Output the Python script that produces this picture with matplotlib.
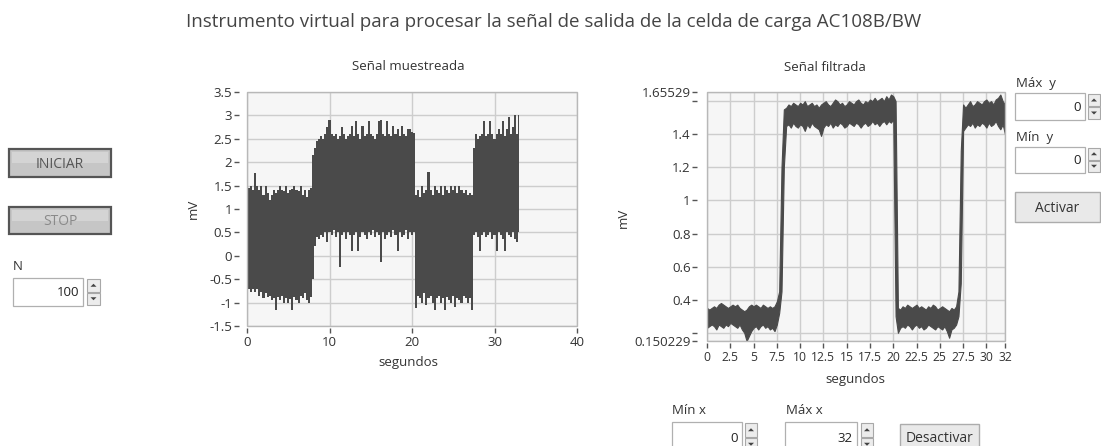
import numpy as np
import matplotlib
matplotlib.use("Agg")
import matplotlib.pyplot as plt
from matplotlib.patches import Rectangle, Polygon

plt.rcParams["font.family"] = ["Open Sans", "DejaVu Sans"]

# ── Data ────────────────────────────────────────────────────────────────────
T_STEP = 0.25  # s between envelope samples

# "Señal muestreada": upper / lower edge of the noisy band, t = 0 .. 33 s
raw_upper = [
    # 0 - 7.75 s (low level)
    1.13, 1.45, 1.5, 1.4, 1.77, 1.5, 1.4, 1.5, 1.3, 1.5, 1.35, 1.2, 1.3, 1.4, 1.35, 1.4,
    1.5, 1.4, 1.38, 1.5, 1.35, 1.4, 1.42, 1.5, 1.4, 1.38, 1.5, 1.3, 1.4, 1.25, 1.4, 1.45,
    # 8 - 8.5 s (step up)
    2.15, 2.3, 2.45,
    # 8.75 - 20.25 s (high level)
    2.5, 2.55, 2.5, 2.6, 2.75, 2.9, 2.6, 2.55, 2.6, 2.5, 2.55, 2.75, 2.6, 2.5, 2.55, 2.6,
    2.78, 2.55, 2.87, 2.6, 2.5, 2.78, 2.55, 2.6, 2.87, 2.6, 2.55, 2.5, 2.6, 2.87, 2.9, 2.6,
    2.55, 2.87, 2.6, 2.55, 2.78, 2.6, 2.72, 2.55, 2.78, 2.6, 2.55, 2.72, 2.7, 2.65, 2.62,
    # 20.5 - 27.25 s (low level)
    1.3, 1.4, 1.25, 1.5, 1.35, 1.4, 1.8, 1.4, 1.3, 1.5, 1.4, 1.35, 1.5, 1.3, 1.5, 1.4,
    1.35, 1.5, 1.4, 1.5, 1.35, 1.5, 1.4, 1.35, 1.4, 1.3, 1.35, 1.3,
    # 27.5 - 33 s (high level)
    2.3, 2.6, 2.5, 2.55, 2.6, 2.87, 2.55, 2.6, 2.87, 2.6, 2.5, 2.6, 2.72, 2.6, 2.87, 2.55,
    2.7, 2.97, 2.6, 2.75, 3.0, 2.6, 3.0,
]
raw_lower = [
    -0.65, -0.7, -0.78, -0.72, -0.78, -0.7, -0.85, -0.78, -0.9, -0.8, -0.88, -0.85, -0.95,
    -0.9, -1.15, -0.88, -0.95, -0.85, -1.0, -0.9, -1.0, -0.92, -1.16, -0.88, -0.95, -1.0,
    -0.85, -0.9, -0.8, -0.95, -1.0, -0.88,
    -0.5, 0.2, 0.4,
    0.35, 0.45, 0.4, 0.5, 0.3, 0.5, 0.45, 0.55, 0.4, 0.5, -0.25, 0.45, 0.5, 0.35, 0.5, 0.45,
    0.1, 0.45, 0.5, 0.1, 0.4, 0.5, 0.45, 0.35, 0.5, 0.45, 0.55, 0.4, 0.5, 0.45, -0.13, 0.5,
    0.35, 0.45, 0.5, 0.4, 0.55, 0.45, 0.1, 0.5, 0.4, 0.45, 0.55, 0.35, 0.5, 0.45, 0.5,
    -1.12, -0.85, -0.9, -1.0, -0.8, -1.05, -0.9, -0.85, -1.0, -1.15, -0.9, -0.85, -1.0, -0.9,
    -1.15, -0.88, -0.95, -1.0, -0.85, -1.1, -0.9, -0.95, -1.0, -0.85, -0.9, -1.0, -0.9, -1.15,
    0.45, 0.5, 0.4, 0.1, 0.45, 0.5, 0.4, 0.45, 0.5, 0.35, 0.45, 0.1, 0.5, 0.45, 0.35, 0.1,
    0.5, 0.45, 0.4, 0.5, 0.35, 0.3, 0.5,
]

# "Señal filtrada": upper / lower edge of the trace, t = 0 .. 32 s
filt_upper = [
    0.35, 0.34, 0.35, 0.36, 0.35, 0.37, 0.38, 0.37, 0.36, 0.35, 0.36, 0.37, 0.36, 0.37, 0.35,
    0.34, 0.33, 0.34, 0.36, 0.37, 0.36, 0.37, 0.36, 0.35, 0.37, 0.36, 0.35, 0.36, 0.35, 0.36, 0.39,
    0.45, 1.2, 1.55,
    1.56, 1.58, 1.57, 1.59, 1.58, 1.57, 1.59, 1.58, 1.6, 1.57, 1.58, 1.59, 1.57, 1.58, 1.56, 1.58,
    1.59, 1.6, 1.58, 1.57, 1.59, 1.61, 1.6, 1.58, 1.59, 1.57, 1.58, 1.6, 1.59, 1.58, 1.6, 1.61,
    1.59, 1.58, 1.6, 1.59, 1.61, 1.6, 1.62, 1.6, 1.61, 1.62, 1.6, 1.63, 1.61, 1.64, 1.63,
    1.6,
    0.35, 0.34, 0.36, 0.35, 0.37, 0.36, 0.35, 0.36, 0.37, 0.35, 0.36, 0.35, 0.34, 0.36, 0.35,
    0.37, 0.36, 0.34, 0.35, 0.36, 0.35, 0.34, 0.33, 0.35, 0.34, 0.36,
    0.45, 1.3, 1.58,
    1.56, 1.58, 1.6, 1.57, 1.58, 1.6, 1.59, 1.58, 1.6, 1.61, 1.59, 1.6, 1.58, 1.61, 1.62, 1.64,
    1.6, 1.58,
]
filt_lower = [
    0.23, 0.24, 0.25, 0.24, 0.22, 0.25, 0.24, 0.23, 0.25, 0.24, 0.26, 0.25, 0.24, 0.23, 0.25,
    0.22, 0.2, 0.15, 0.18, 0.21, 0.23, 0.24, 0.22, 0.24, 0.25, 0.23, 0.24, 0.22, 0.23, 0.21, 0.25,
    0.32, 0.45, 1.2,
    1.45, 1.46, 1.44, 1.47, 1.45, 1.44, 1.46, 1.45, 1.42, 1.46, 1.44, 1.47, 1.45, 1.44, 1.43, 1.39,
    1.44, 1.46, 1.45, 1.47, 1.44, 1.46, 1.45, 1.47, 1.46, 1.44, 1.45, 1.47, 1.46, 1.45, 1.47, 1.46,
    1.44, 1.46, 1.47, 1.45, 1.46, 1.48, 1.46, 1.47, 1.45, 1.47, 1.48, 1.46, 1.48, 1.47, 1.49,
    0.3,
    0.2, 0.23, 0.24, 0.23, 0.25, 0.24, 0.22, 0.24, 0.25, 0.23, 0.24, 0.22, 0.23, 0.25, 0.24,
    0.23, 0.22, 0.24, 0.23, 0.22, 0.24, 0.21, 0.17, 0.22, 0.23, 0.25,
    0.3, 0.5, 1.42,
    1.44, 1.46, 1.45, 1.47, 1.44, 1.46, 1.45, 1.47, 1.46, 1.44, 1.47, 1.45, 1.46, 1.48, 1.45, 1.43,
    1.46, 1.40,
]

raw_xticks = [0, 10, 20, 30, 40]
raw_yticks = [-1.5, -1, -0.5, 0, 0.5, 1, 1.5, 2, 2.5, 3, 3.5]
raw_yticklabels = ["-1.5", "-1", "-0.5", "0", "0.5", "1", "1.5", "2", "2.5", "3", "3.5"]

filt_xticks = [0, 2.5, 5, 7.5, 10, 12.5, 15, 17.5, 20, 22.5, 25, 27.5, 30, 32]
filt_xticklabels = ["0", "2.5", "5", "7.5", "10", "12.5", "15", "17.5", "20", "22.5",
                    "25", "27.5", "30", "32"]
filt_yticks = [0.150229, 0.2, 0.4, 0.6, 0.8, 1.0, 1.2, 1.4, 1.6, 1.65529]
filt_yticklabels = ["0.150229", "", "0.4", "0.6", "0.8", "1", "1.2", "1.4", "", "1.65529"]

# ── Figure / helpers ────────────────────────────────────────────────────────
W, H = 1101, 446
TXT = "#333333"
TRACE = "#4a4a4a"
GRID = "#cdcdcd"
FRAME = "#b8b8b8"
PLOT_BG = "#f6f6f6"

fig = plt.figure(figsize=(W / 100, H / 100), dpi=100, facecolor="white")

# pixel-space overlay for the front-panel controls
ui = fig.add_axes([0, 0, 1, 1], zorder=0)
ui.set_xlim(0, W)
ui.set_ylim(H, 0)
ui.axis("off")


def px_axes(x0, y0, x1, y1):
    return fig.add_axes([x0 / W, (H - y1) / H, (x1 - x0) / W, (y1 - y0) / H], zorder=1)


def spinner(x0, x1, y0, y1):
    mid = (y0 + y1) / 2
    for top, bot, up in ((y0, mid - 0.5, True), (mid + 0.5, y1, False)):
        ui.add_patch(Rectangle((x0, top), x1 - x0, bot - top, fc="#ececec", ec="#a8a8a8", lw=0.8))
        cx, cy = (x0 + x1) / 2, (top + bot) / 2
        if up:
            tri = [(cx - 3, cy + 1.5), (cx + 3, cy + 1.5), (cx, cy - 1.5)]
        else:
            tri = [(cx - 3, cy - 1.5), (cx + 3, cy - 1.5), (cx, cy + 1.5)]
        ui.add_patch(Polygon(tri, closed=True, fc="#444444", ec="none"))


def numeric(label, lx, ly, x0, x1, y0, y1, value, sx0, sx1):
    ui.text(lx, ly, label, ha="left", va="center", fontsize=9.5, color=TXT)
    ui.add_patch(Rectangle((x0, y0), x1 - x0, y1 - y0, fc="white", ec="#b0b0b0", lw=0.9))
    ui.text(x1 - 4, (y0 + y1) / 2 + 1, value, ha="right", va="center", fontsize=9.5,
            color="#222222")
    spinner(sx0, sx1, y0 + 1, y1 - 1)


def lv_button(x0, x1, y0, y1, text, color, raised=True):
    if raised:
        ui.add_patch(Rectangle((x0, y0), x1 - x0, y1 - y0, fc="#c6c6c6", ec="#555555", lw=1.6))
        ui.add_patch(Rectangle((x0 + 3, y0 + 3), x1 - x0 - 6, (y1 - y0) / 2 - 3,
                               fc="#d4d4d4", ec="none"))
    else:
        ui.add_patch(Rectangle((x0, y0), x1 - x0, y1 - y0, fc="#e9e9e9", ec="#acacac", lw=1))
    ui.text((x0 + x1) / 2, (y0 + y1) / 2 + 1, text, ha="center", va="center",
            fontsize=10, color=color)


def style_axes(ax, y_out, tick_len=3.6):
    ax.set_facecolor(PLOT_BG)
    for s in ax.spines.values():
        s.set_visible(False)
    ax.spines["left"].set_position(("outward", y_out))
    ax.spines["bottom"].set_position(("outward", 1.4))
    ax.tick_params(axis="both", direction="out", length=tick_len, width=1, color="#555555",
                   labelcolor=TXT, labelsize=9.5)
    ax.tick_params(axis="y", pad=1)
    ax.tick_params(axis="x", pad=2)
    ax.grid(True, color=GRID, lw=1)
    ax.set_axisbelow(True)
    ax.add_patch(Rectangle((0, 0), 1, 1, transform=ax.transAxes, fill=False, ec=FRAME,
                           lw=1, clip_on=False, zorder=3))


# ── Panel title ─────────────────────────────────────────────────────────────
ui.text(554, 22, "Instrumento virtual para procesar la señal de salida de la celda de carga AC108B/BW",
        ha="center", va="center", fontsize=13.5, color="#444444")

# ── Left controls ───────────────────────────────────────────────────────────
lv_button(9, 111, 149, 177, "INICIAR", "#555555")
lv_button(9, 111, 207, 234, "STOP", "#8a8a8a")
numeric("N", 13, 266, 13, 83, 278, 306, "100", 87, 100)

# ── Raw signal graph ────────────────────────────────────────────────────────
raw_t = np.arange(len(raw_upper)) * T_STEP
ax1 = px_axes(247, 92, 577, 326)
style_axes(ax1, 6.1)
ax1.fill_between(raw_t, raw_lower, raw_upper, step="mid", color=TRACE, lw=0, zorder=2)
ax1.set_xlim(0, 40)
ax1.set_ylim(-1.5, 3.5)
ax1.set_xticks(raw_xticks)
ax1.set_yticks(raw_yticks)
ax1.set_yticklabels(raw_yticklabels)
ax1.text(0.49, 1.107, "Señal muestreada", transform=ax1.transAxes, ha="center", va="center",
         fontsize=9.5, color=TXT)
ax1.set_xlabel("segundos", fontsize=9.5, color=TXT, va="center")
ax1.xaxis.set_label_coords(0.49, -0.158)
ax1.set_ylabel("mV", fontsize=9.5, color=TXT, va="center")
ax1.yaxis.set_label_coords(-0.164, 0.5)

# ── Filtered signal graph ───────────────────────────────────────────────────
filt_t = np.arange(len(filt_upper)) * T_STEP
ax2 = px_axes(707, 92, 1005, 341)
style_axes(ax2, 7.2)
ax2.fill_between(filt_t, filt_lower, filt_upper, color=TRACE, ec=TRACE, lw=0.8, zorder=2)
ax2.set_xlim(0, 32)
ax2.set_ylim(0.150229, 1.65529)
ax2.set_xticks(filt_xticks)
ax2.set_xticklabels(filt_xticklabels, fontsize=8.7)
ax2.set_yticks(filt_yticks)
ax2.set_yticklabels(filt_yticklabels)
ax2.text(0.396, 1.100, "Señal filtrada", transform=ax2.transAxes, ha="center", va="center",
         fontsize=9.5, color=TXT)
ax2.set_xlabel("segundos", fontsize=9.5, color=TXT, va="center")
ax2.xaxis.set_label_coords(0.497, -0.153)
ax2.set_ylabel("mV", fontsize=9.5, color=TXT, va="center")
ax2.yaxis.set_label_coords(-0.279, 0.494)

# ── Scale controls ──────────────────────────────────────────────────────────
numeric("Máx  y", 1016, 84, 1015, 1085, 93, 120, "0", 1088, 1100)
numeric("Mín  y", 1016, 137, 1015, 1085, 147, 173, "0", 1088, 1100)
lv_button(1015, 1100, 192, 222, "Activar", TXT, raised=False)

numeric("Mín x", 672, 411, 672, 742, 422, 452, "0", 745, 757)
numeric("Máx x", 786, 411, 785, 857, 422, 452, "32", 861, 873)
lv_button(900, 979, 424, 452, "Desactivar", TXT, raised=False)

fig.savefig("out.png", dpi=100, facecolor="white")
